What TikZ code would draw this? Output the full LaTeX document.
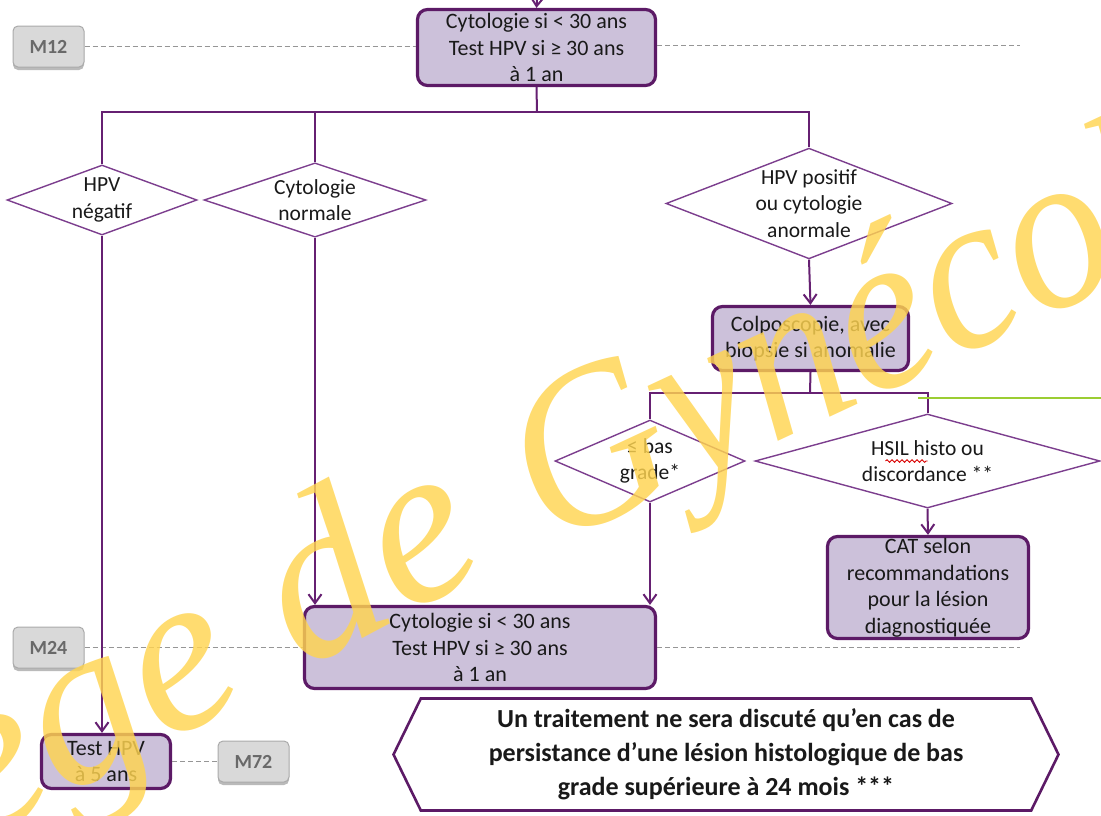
\documentclass[tikz,border=0pt]{standalone}
\usepackage{fontspec}
\setmainfont{Carlito}
\newfontfamily\wmfont{Liberation Serif}
\newfontfamily\wmfontNarrow[FakeStretch=0.92]{Liberation Serif}
\usetikzlibrary{arrows.meta, positioning, shapes.geometric, shapes.symbols, shadows, decorations.pathmorphing}
\definecolor{boxFill}{RGB}{204,193,218}
\definecolor{boxBorder}{RGB}{92,26,102}
\definecolor{lineColor}{RGB}{102,32,114}
\definecolor{diamondBorder}{RGB}{124,62,142}
\definecolor{labelFill}{RGB}{217,217,217}
\definecolor{labelBorder}{RGB}{170,170,170}
\definecolor{labelText}{RGB}{105,105,105}
\definecolor{dashGray}{RGB}{150,150,150}
\definecolor{greenLine}{RGB}{155,205,50}
\definecolor{wmYellow}{RGB}{255,212,80}
\tikzset{
    >={Straight Barb[length=9pt,width=13pt]}, % open arrow heads
    x=1pt, y=-1pt, % coordinates read like the screen, y going down
    every node/.style={text=black!90}, % dark text everywhere
}

\begin{document}
\begin{tikzpicture}[
        styleBox/.style={draw=boxBorder, line width=3.2pt, fill=boxFill, rounded corners=10pt,
            align=center, inner sep=0pt, font=\fontsize{22}{26.5}\selectfont},
        styleDiamond/.style={diamond, draw=diamondBorder, line width=1.4pt, fill=white, aspect=2.5,
            inner sep=0pt, align=center, font=\fontsize{21.5}{26.5}\selectfont},
        styleMonth/.style={draw=labelBorder, line width=1pt, fill=labelFill, rounded corners=5pt,
            text=labelText, font=\bfseries\fontsize{20}{22}\selectfont, minimum width=71pt, minimum height=41pt,
            drop shadow={shadow xshift=0pt, shadow yshift=-3pt, fill=black!45, opacity=0.6}},
        styleLine/.style={draw=lineColor, line width=2pt},
        styleArrow/.style={styleLine, ->},
        styleDash/.style={draw=dashGray, line width=0.9pt, dash pattern=on 5pt off 3pt},
        styleMark/.style={text=wmYellow, text opacity=0.82, inner sep=0pt},
    ]
    \useasboundingbox (0,0) rectangle (1101,815);
    % time marks
    \node[styleMonth] (m12) at (48.5,46.5) {M12};
    \node[styleMonth] (m24) at (48.5,647.5) {M24};
    % boxes
    \node[styleBox, minimum width=238pt, minimum height=76pt] (c12) at (536.5,47.5)
        {Cytologie si < 30 ans\\Test HPV si ≥ 30 ans\\à 1 an};
    \node[styleDiamond, minimum width=190pt, minimum height=70pt] (dneg) at (102,200) {HPV\\négatif};
    \node[styleDiamond, minimum width=222pt, minimum height=70pt] (dnorm) at (315,200) {Cytologie\\normale};
    \node[styleDiamond, minimum width=286pt, minimum height=107pt] (dpos) at (809,203.5)
        {HPV positif\\ou cytologie\\anormale};
    \node[styleBox, minimum width=196pt, minimum height=64pt] (colpo) at (810.5,338.5)
        {Colposcopie, avec\\biopsie si anomalie};
    \node[styleDiamond, minimum width=190pt, minimum height=82pt] (dbas) at (650,461) {≤ bas\\grade*};
    \node[styleDiamond, minimum width=345pt, minimum height=88pt] (dhsil) at (927.5,461)
        {HSIL histo ou\\discordance **};
    \node[styleBox, minimum width=201pt, minimum height=102pt] (cat) at (928,587.5)
        {CAT selon\\recommandations\\pour la lésion\\diagnostiquée};
    \node[styleBox, minimum width=351pt, minimum height=82pt] (c24) at (480,647.5)
        {Cytologie si < 30 ans\\Test HPV si ≥ 30 ans\\à 1 an};
    \node[styleBox, minimum width=129pt, minimum height=54pt] (hpv5) at (106,761.5) {Test HPV\\à 5 ans};
    \node[styleMonth, right of=hpv5, node distance=147.5pt] (m72) {M72};
    \node[signal, signal to=east and west, signal pointer angle=128, draw=boxBorder, line width=2.6pt,
        fill=white, minimum width=665pt, minimum height=112pt, inner sep=0pt, align=center,
        font=\bfseries\fontsize{26}{34}\selectfont] (note) at (726,754.5)
        {Un traitement ne sera discuté qu’en cas de\\persistance d’une lésion histologique de bas\\grade supérieure à 24 mois ***};
    % free ends
    \coordinate (topIn) at (537,0);
    \coordinate (split1) at (537,112);
    \coordinate (split2) at (810,393);
    \coordinate (dashEnd12) at (1020,45);
    \coordinate (dashEnd24) at (1020,647);
    \coordinate (greenStart) at (918,398);
    \coordinate (greenEnd) at (1101,398);
    % dashed time lines
    \draw[styleDash] (m12.east) -- (m12.east -| c12.west);
    \draw[styleDash] (c12.east |- dashEnd12) -- (dashEnd12);
    \draw[styleDash] (m24.east) -- (m24.east -| c24.west);
    \draw[styleDash] (c24.east |- dashEnd24) -- (dashEnd24);
    \draw[styleDash] (hpv5.east) -- (m72.west);
    % connectors
    \draw[styleArrow] (topIn) -- (c12.north);
    \draw[styleLine] (c12.south) -- (split1);
    \draw[styleLine] (dneg.north) |- (dpos.north |- split1) -- (dpos.north);
    \draw[styleLine] (dnorm.north) -- (dnorm.north |- split1);
    \draw[styleArrow] (dpos.south) -- (colpo.north);
    \draw[styleLine] (colpo.south) -- (split2);
    \draw[styleLine] (dbas.north) |- (dhsil.north |- split2) -- (dhsil.north);
    \draw[greenLine, line width=2.8pt] (greenStart) -- (greenEnd);
    \draw[styleArrow] (dhsil.south) -- (cat.north);
    \draw[styleArrow] (dbas.south) -- (dbas.south |- c24.north);
    \draw[styleArrow] (dnorm.south) -- (dnorm.south |- c24.north);
    \draw[styleArrow] (dneg.south) -- (dneg.south |- hpv5.north);
    % spelling mark under histo
    \draw[red!85!black, line width=0.9pt, decorate, decoration={snake, amplitude=1.3pt, segment length=5pt}]
        ([xshift=-42pt,yshift=0pt]dhsil.center) -- ([xshift=0pt,yshift=0pt]dhsil.center);
    % watermark
    \node[styleMark, rotate=28, anchor=base east, font=\wmfont\itshape\fontsize{228}{228}\selectfont] (markLeft)
        at (493,569) {Collège de};
    \node[styleMark, rotate=25, anchor=base west, font=\wmfontNarrow\itshape\fontsize{228}{228}\selectfont] (markRight)
        at (550,548) {Gynécologie};
\end{tikzpicture}
\end{document}
